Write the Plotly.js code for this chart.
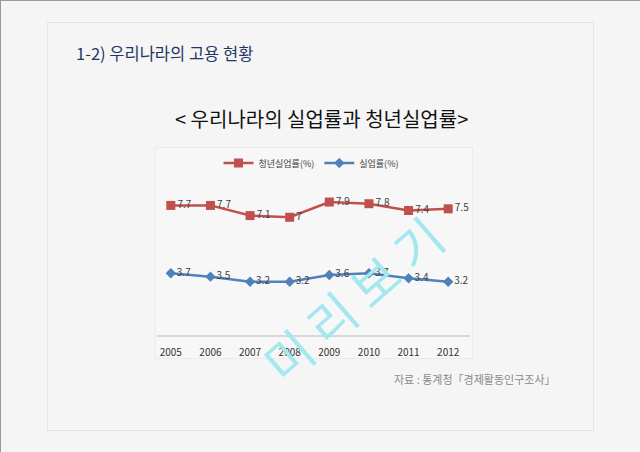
<!DOCTYPE html>
<html>
<head>
<meta charset="utf-8">
<script src="https://cdn.plot.ly/plotly-3.0.1.min.js"></script>
<style>
html,body{margin:0;padding:0;background:#f5f5f5;}
#chart{width:640px;height:452px;}
</style>
</head>
<body>
<div id="chart"></div>
<script>
const years = ["2005","2006","2007","2008","2009","2010","2011","2012"];
const youthRate = [7.7, 7.7, 7.1, 7.0, 7.9, 7.8, 7.4, 7.5];
const youthLabels = ["7.7","7.7","7.1","7","7.9","7.8","7.4","7.5"];
const totalRate = [3.7, 3.5, 3.2, 3.2, 3.6, 3.7, 3.4, 3.2];
const totalLabels = ["3.7","3.5","3.2","3.2","3.6","3.7","3.4","3.2"];
const seriesNames = ["청년실업률(%)", "실업률(%)"];

const W = 640, H = 452;
const px = x => x / W;
const py = y => 1 - y / H;
const FONT = '"Noto Sans CJK KR", "Noto Sans", sans-serif';

const traces = [
  {
    x: years, y: youthRate, name: seriesNames[0], type: 'scatter', mode: 'lines+markers+text',
    text: youthLabels, textposition: 'middle right',
    textfont: {family: FONT, size: 10, color: '#404040'},
    line: {color: '#c0504d', width: 2.5},
    marker: {symbol: 'square', size: 9, color: '#c0504d'},
    cliponaxis: false, hoverinfo: 'skip'
  },
  {
    x: years, y: totalRate, name: seriesNames[1], type: 'scatter', mode: 'lines+markers+text',
    text: totalLabels, textposition: 'middle right',
    textfont: {family: FONT, size: 10, color: '#404040'},
    line: {color: '#4f81bd', width: 2.5},
    marker: {symbol: 'diamond', size: 8, color: '#4f81bd'},
    cliponaxis: false, hoverinfo: 'skip'
  }
];

const layout = {
  width: W, height: H,
  margin: {l: 0, r: 0, t: 0, b: 0},
  paper_bgcolor: '#f5f5f5',
  plot_bgcolor: 'rgba(0,0,0,0)',
  font: {family: FONT},
  showlegend: true,
  legend: {
    orientation: 'h', x: px(311), y: py(163), xanchor: 'center', yanchor: 'middle',
    font: {family: FONT, size: 9, color: '#404040'},
    bgcolor: 'rgba(0,0,0,0)', itemwidth: 30, tracegroupgap: 0
  },
  xaxis: {
    type: 'category', domain: [px(151), px(468)], range: [-0.5, 7.5],
    showline: false, showgrid: false, zeroline: false,
    ticks: 'outside', ticklen: 7, tickcolor: 'rgba(0,0,0,0)',
    tickfont: {family: FONT, size: 10, color: '#333333'},
    fixedrange: true
  },
  yaxis: {
    domain: [py(336), py(166.4)], range: [0, 10],
    showline: false, showgrid: false, zeroline: false, showticklabels: false, ticks: '',
    fixedrange: true
  },
  shapes: [
    {type: 'line', xref: 'paper', yref: 'paper', x0: 0, x1: 1, y0: py(0.5), y1: py(0.5), line: {color: '#9a9a9a', width: 1}},
    {type: 'line', xref: 'paper', yref: 'paper', x0: px(0.5), x1: px(0.5), y0: 0, y1: 1, line: {color: '#9a9a9a', width: 1}},
    {type: 'rect', xref: 'paper', yref: 'paper', x0: px(47.5), x1: px(593.5), y0: py(22.5), y1: py(430.5), line: {color: '#e4e4e4', width: 1}, fillcolor: 'rgba(0,0,0,0)', layer: 'below'},
    {type: 'rect', xref: 'paper', yref: 'paper', x0: px(155.5), x1: px(472.5), y0: py(147.5), y1: py(358.5), line: {color: '#ebebeb', width: 1}, fillcolor: '#f7f7f7', layer: 'below'},
    {type: 'line', xref: 'paper', yref: 'paper', x0: px(157), x1: px(470), y0: py(336), y1: py(336), line: {color: '#b8b8b8', width: 1.2}, layer: 'below'}
  ],
  annotations: [
    {text: '1-2) 우리나라의 고용 현황', xref: 'paper', yref: 'paper', x: px(74), y: py(53), xanchor: 'left', yanchor: 'middle', showarrow: false,
     font: {family: FONT, size: 16.5, color: '#1f3864'}},
    {text: '< 우리나라의 실업률과 청년실업률>', xref: 'paper', yref: 'paper', x: px(321), y: py(118), xanchor: 'center', yanchor: 'middle', showarrow: false,
     font: {family: FONT, size: 20, color: '#111111'}},
    {text: '자료 : 통계청「경제활동인구조사」', xref: 'paper', yref: 'paper', x: px(558), y: py(379), xanchor: 'right', yanchor: 'middle', showarrow: false,
     font: {family: FONT, size: 11, color: '#8a8a8a'}},
    {text: '미 리 보 기', xref: 'paper', yref: 'paper', x: px(352), y: py(298), xanchor: 'center', yanchor: 'middle', showarrow: false, textangle: -41,
     font: {family: FONT, size: 50, color: '#a2e8ee'}}
  ]
};

Plotly.newPlot('chart', traces, layout, {displayModeBar: false, staticPlot: true});
</script>
</body>
</html>
